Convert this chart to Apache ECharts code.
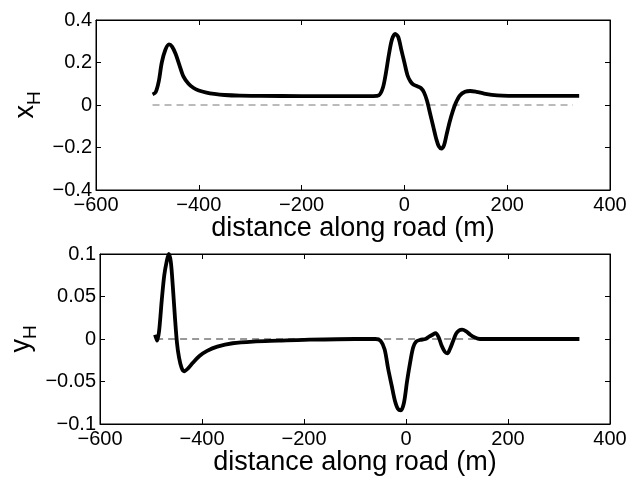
<!DOCTYPE html>
<html>
<head>
<meta charset="utf-8">
<script src="https://cdn.jsdelivr.net/npm/echarts@6/dist/echarts.min.js"></script>
<style>
html,body{margin:0;padding:0;background:#fff;}
#c{width:630px;height:486px;}
</style>
</head>
<body>
<div id="c"></div>
<script>
// distance along road (m) and x_H for top panel
const xhDist = [-490,-484,-478,-472,-465,-458,-452,-445,-438,-430,-420,-410,-400,-385,-370,-350,-320,-280,-200,-100,-60,-50,-42,-36,-30,-24,-18,-12,-6,0,6,12,18,25,32,38,44,50,56,62,67,72,77,82,88,94,100,108,118,128,140,155,170,190,220,280,340];
const xhVals = [0.05,0.06,0.11,0.2,0.26,0.285,0.275,0.24,0.19,0.135,0.1,0.08,0.068,0.058,0.052,0.047,0.044,0.043,0.042,0.042,0.042,0.045,0.08,0.15,0.24,0.31,0.335,0.32,0.26,0.2,0.14,0.11,0.095,0.088,0.08,0.06,0.02,-0.04,-0.1,-0.16,-0.195,-0.205,-0.19,-0.14,-0.08,-0.03,0.01,0.045,0.062,0.066,0.062,0.054,0.048,0.044,0.043,0.043,0.043];
// distance along road (m) and y_H for bottom panel
const yhDist = [-492,-488,-484,-479,-474,-469,-465,-461,-457,-453,-449,-445,-440,-435,-428,-418,-405,-390,-370,-340,-300,-250,-200,-100,-60,-50,-42,-35,-28,-22,-16,-10,-4,2,8,14,20,28,38,46,52,58,64,70,76,81,86,92,98,104,110,118,126,134,145,160,200,340];
const yhVals = [0.005,-0.002,0.01,0.045,0.075,0.092,0.1,0.09,0.06,0.025,-0.005,-0.022,-0.034,-0.038,-0.035,-0.028,-0.02,-0.014,-0.009,-0.005,-0.003,-0.002,-0.001,0,0,-0.002,-0.012,-0.035,-0.055,-0.072,-0.082,-0.084,-0.075,-0.05,-0.028,-0.01,-0.003,-0.001,0,0.003,0.005,0.007,0.002,-0.008,-0.015,-0.017,-0.012,-0.003,0.006,0.01,0.011,0.009,0.005,0.002,0,0,0,0];
// zero reference line extent
const zeroDist = [-490, 328];
const zeroVals = [0, 0];
// axis settings
const xTicks = {min:-600, max:400, step:200};
const topY = {min:-0.4, max:0.4, step:0.2};
const botY = {min:-0.1, max:0.1, step:0.05};
const xName = 'distance along road (m)';

const FONT = '"Liberation Sans", Arial, Helvetica, sans-serif';
const fmt = v => { let s = String(+v.toFixed(4)); return s.replace('-', '\u2212'); };
const pairs = (a,b) => a.map((v,i)=>[v,b[i]]);

const grids = [
  {left:96, right:20, top:20, height:170, show:true, borderColor:'#000', borderWidth:1},
  {left:96, right:20, top:254, height:170, show:true, borderColor:'#000', borderWidth:1}
];
function xAxes(gi){
  return [
    {type:'value', gridIndex:gi, min:xTicks.min, max:xTicks.max, interval:xTicks.step,
     position:'bottom',
     axisLine:{show:true, onZero:false, lineStyle:{color:'#000', width:1}},
     axisTick:{show:true, inside:true, length:5, lineStyle:{color:'#000'}},
     axisLabel:{color:'#000', fontSize:20, fontFamily:FONT, margin:5, formatter:fmt},
     splitLine:{show:false},
     name:xName, nameLocation:'middle', nameGap:25, nameMoveOverlap:false,
     nameTextStyle:{color:'#000', fontSize:27, fontFamily:FONT}},
    {type:'value', gridIndex:gi, min:xTicks.min, max:xTicks.max, interval:xTicks.step,
     position:'top',
     axisLine:{show:true, onZero:false, lineStyle:{color:'#000', width:1}},
     axisTick:{show:true, inside:true, length:5, lineStyle:{color:'#000'}},
     axisLabel:{show:false}, splitLine:{show:false}}
  ];
}
function yAxes(gi, r, nm, gap){
  return [
    {type:'value', gridIndex:gi, min:r.min, max:r.max, interval:r.step, position:'left',
     axisLine:{show:true, onZero:false, lineStyle:{color:'#000', width:1}},
     axisTick:{show:true, inside:true, length:5, lineStyle:{color:'#000'}},
     axisLabel:{color:'#000', fontSize:20, fontFamily:FONT, margin:4, formatter:fmt},
     splitLine:{show:false},
     name:nm, nameLocation:'middle', nameGap:gap, nameRotate:90, nameMoveOverlap:false,
     nameTextStyle:{color:'#000', fontFamily:FONT,
       rich:{a:{fontSize:27, fontFamily:FONT, color:'#000', verticalAlign:'top'},
             b:{fontSize:19, fontFamily:FONT, color:'#000', verticalAlign:'top', padding:[13,0,0,0]}}}},
    {type:'value', gridIndex:gi, min:r.min, max:r.max, interval:r.step, position:'right',
     axisLine:{show:true, onZero:false, lineStyle:{color:'#000', width:1}},
     axisTick:{show:true, inside:true, length:5, lineStyle:{color:'#000'}},
     axisLabel:{show:false}, splitLine:{show:false}}
  ];
}
const chart = echarts.init(document.getElementById('c'), null, {renderer:'canvas'});
chart.setOption({
  animation:false,
  backgroundColor:'#fff',
  grid:grids,
  xAxis:[...xAxes(0), ...xAxes(1)],
  yAxis:[...yAxes(0, topY, '{a|x}{b|H}', 52), ...yAxes(1, botY, '{a|y}{b|H}', 60)],
  series:[
    {type:'line', xAxisIndex:0, yAxisIndex:0, data:pairs(zeroDist, zeroVals), symbol:'none',
     lineStyle:{color:'#777', width:1, type:[7,5]}, z:1},
    {type:'line', xAxisIndex:0, yAxisIndex:0, data:pairs(xhDist, xhVals), symbol:'none', smooth:0.3,
     lineStyle:{color:'#000', width:3.8}, z:2},
    {type:'line', xAxisIndex:2, yAxisIndex:2, data:pairs(zeroDist, zeroVals), symbol:'none',
     lineStyle:{color:'#333', width:1, type:[7,5]}, z:1},
    {type:'line', xAxisIndex:2, yAxisIndex:2, data:pairs(yhDist, yhVals), symbol:'none', smooth:0.3,
     lineStyle:{color:'#000', width:3.8}, z:2}
  ]
});
</script>
</body>
</html>
